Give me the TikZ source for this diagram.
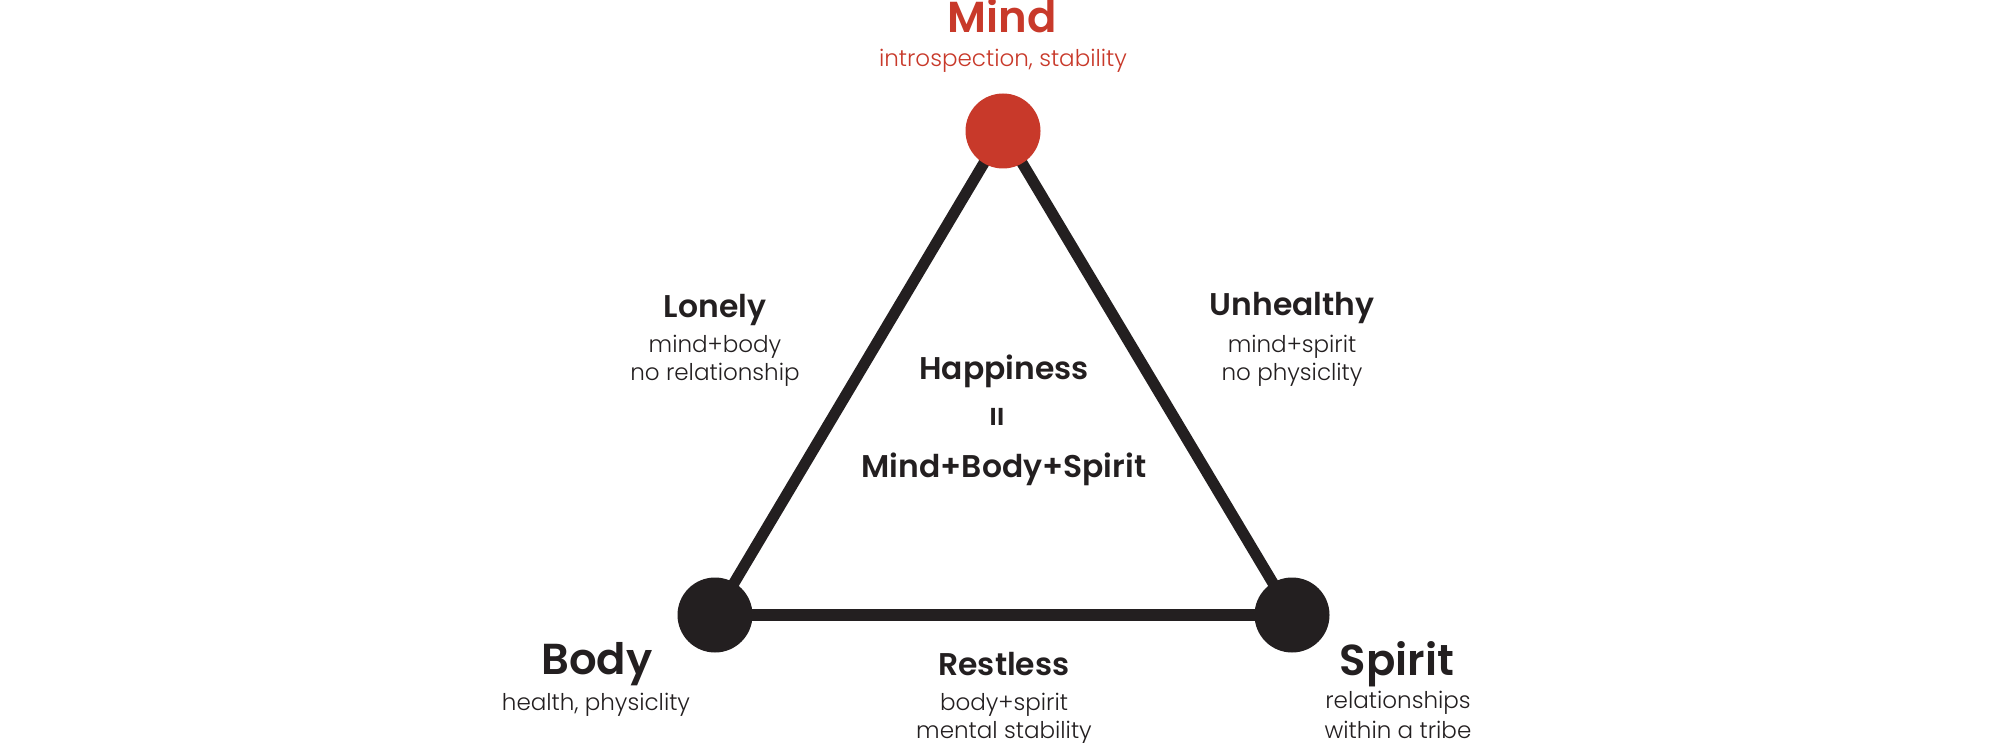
\documentclass[tikz,border=0pt]{standalone}
\usepackage{fontspec}
\setmainfont{Poppins}[UprightFont=* Light, BoldFont=* SemiBold]
\usetikzlibrary{backgrounds}
\definecolor{mindred}{HTML}{C8392A}
\definecolor{inkblack}{HTML}{231F20}
\tikzset{
  vertex/.style={circle, fill=#1, minimum size=27pt, inner sep=0pt},
  side/.style={line width=4pt, draw=inkblack},
  bigname/.style={font=\bfseries\fontsize{15.6}{19}\selectfont, text=inkblack, anchor=base, inner sep=0pt},
  pairname/.style={font=\bfseries\fontsize{11.3}{14}\selectfont, text=inkblack, anchor=base, inner sep=0pt},
  note/.style={font=\fontsize{8.3}{10}\selectfont, text=inkblack, anchor=base, inner sep=0pt}
}
\begin{document}
\begin{tikzpicture}[x=0.36pt,y=-0.36pt]
  \useasboundingbox (0,0) rectangle (2000,743);
  % corners
  \node[vertex=mindred] (mind) at (1003,131) {};
  \node[vertex=inkblack] (body) at (715,615) {};
  \node[vertex=inkblack] (spirit) at (1292,615) {};
  \begin{scope}[on background layer]
    \draw[side] (mind.center) -- (body.center);
    \draw[side] (body.center) -- (spirit.center);
    \draw[side] (spirit.center) -- (mind.center);
  \end{scope}
  % corner names
  \node[bigname, text=mindred] (mindname) at (1002,33) {Mind};
  \node[note, text=mindred] (mindnote) at (1003,67) {introspection, stability};
  \node[bigname] (bodyname) at (597,674) {Body};
  \node[note] (bodynote) at (596,710) {health, physiclity};
  \node[bigname] (spiritname) at (1397,675) {Spirit};
  \node[note] (spiritnote1) at (1398,708) {relationships};
  \node[note] (spiritnote2) at (1398,738) {within a tribe};
  % side names
  \node[pairname] (lonely) at (715,317) {Lonely};
  \node[note] (lonely1) at (715,352) {mind+body};
  \node[note] (lonely2) at (715,380) {no relationship};
  \node[pairname] (unhealthy) at (1292,315) {Unhealthy};
  \node[note] (unhealthy1) at (1292,352) {mind+spirit};
  \node[note] (unhealthy2) at (1292,380) {no physiclity};
  \node[pairname] (restless) at (1004,675) {Restless};
  \node[note] (restless1) at (1004,710) {body+spirit};
  \node[note] (restless2) at (1004,738) {mental stability};
  % middle
  \node[pairname] (happiness) at (1004,379) {Happiness};
  \node[pairname, anchor=center, rotate=90] (equals) at (1000,417) {=};
  \node[pairname] (formula) at (1004,477) {Mind+Body+Spirit};
\end{tikzpicture}
\end{document}
